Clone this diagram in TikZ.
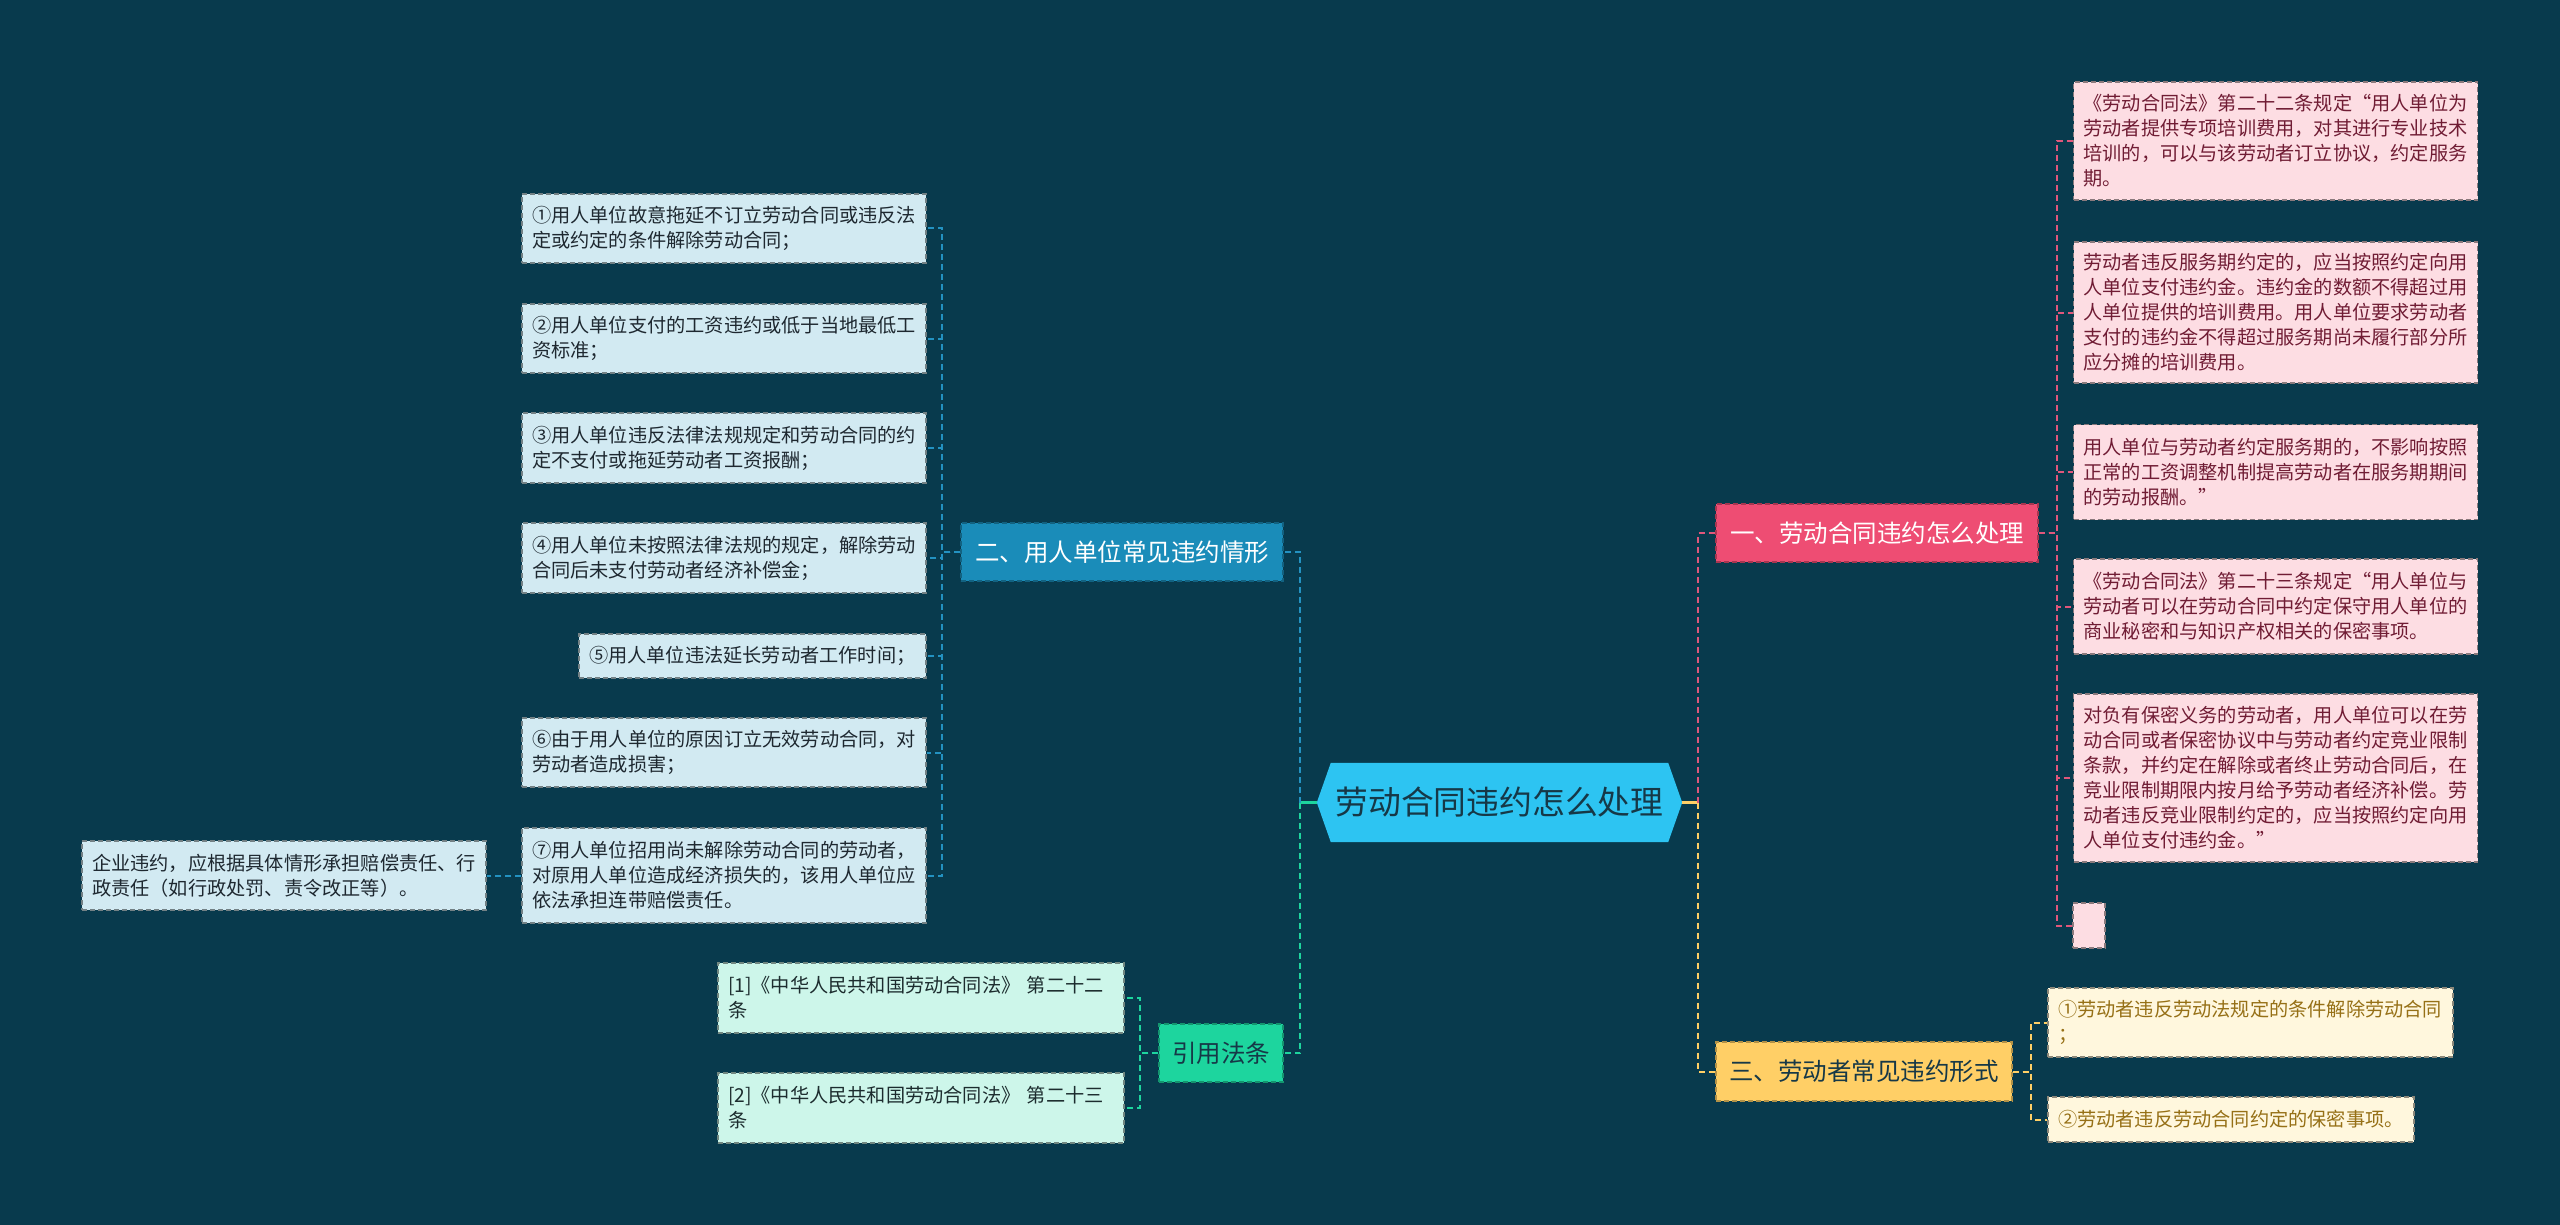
\documentclass[tikz,border=0pt]{standalone}
\usepackage{fontspec}
\setmainfont{Noto Sans CJK SC}
\usetikzlibrary{backgrounds}
\definecolor{bg}{RGB}{8,58,77}
\definecolor{cfill}{RGB}{45,196,242}
\definecolor{ctext}{RGB}{22,56,71}
\definecolor{bfill}{RGB}{26,140,185}
\definecolor{pfillB}{RGB}{238,77,115}
\definecolor{yfillB}{RGB}{255,207,102}
\definecolor{gfillB}{RGB}{29,213,158}
\definecolor{lfill}{RGB}{210,234,242}
\definecolor{ltext}{RGB}{30,40,48}
\definecolor{pfill}{RGB}{253,221,227}
\definecolor{ptext}{RGB}{112,28,52}
\definecolor{yfill}{RGB}{255,247,221}
\definecolor{ytext}{RGB}{150,112,22}
\definecolor{gfill}{RGB}{205,246,234}
\definecolor{gtext}{RGB}{28,44,46}
\definecolor{bcol}{RGB}{35,146,194}
\definecolor{pcol}{RGB}{224,87,123}
\definecolor{ycol}{RGB}{255,207,102}
\definecolor{gcol}{RGB}{29,213,158}
\newcommand\lfnt{\fontsize{19.2}{25}\selectfont}
\newcommand\bfnt{\fontsize{24.5}{28}\selectfont}
\tikzset{
  box/.style={rectangle, inner xsep=10pt, inner ysep=0pt, align=left, line width=1.3pt, dash pattern=on 5pt off 3pt, font=\lfnt, text width=384pt},
  lbox/.style={box, fill=lfill, draw=lfill!55!black, text=ltext},
  pbox/.style={box, fill=pfill, draw=pfill!55!black, text=ptext},
  ybox/.style={box, fill=yfill, draw=yfill!55!black, text=ytext},
  gbox/.style={box, fill=gfill, draw=gfill!55!black, text=gtext},
  br/.style={rectangle, inner sep=0pt, align=center, line width=1.3pt, dash pattern=on 5pt off 3pt, font=\bfnt},
  conn/.style={line width=2pt, dash pattern=on 6pt off 4pt},
  solidc/.style={line width=2.5pt, solid},
}
\begin{document}
\begin{tikzpicture}[x=1pt, y=-1pt]
\useasboundingbox (0,0) rectangle (2560,1225);
\begin{pgfonlayer}{background}
\fill[bg] (0,0) rectangle (2560,1225);
\end{pgfonlayer}

% root
\node[text=ctext, font=\fontsize{32.8}{36}\selectfont, minimum width=365pt, minimum height=79pt, inner sep=0pt] (root) at (1499.5,802.5) {劳动合同违约怎么处理};
\begin{pgfonlayer}{background}
\fill[cfill] (root.west) -- ([xshift=14pt]root.north west) -- ([xshift=-14pt]root.north east) -- (root.east) -- ([xshift=-14pt]root.south east) -- ([xshift=14pt]root.south west) -- cycle;
\end{pgfonlayer}

% branches
\node[br, fill=bfill, draw=bfill!70!black, text=white, minimum width=322pt, minimum height=58pt] (B2) at (1122,552) {二、用人单位常见违约情形};
\node[br, fill=gfillB, draw=gfillB!70!black, text=ctext, minimum width=124pt, minimum height=58pt] (B4) at (1221,1053) {引用法条};
\node[br, fill=pfillB, draw=pfillB!70!black, text=white, minimum width=322pt, minimum height=58pt] (B1) at (1877,533) {一、劳动合同违约怎么处理};
\node[br, fill=yfillB, draw=yfillB!70!black, text=ctext, minimum width=296pt, minimum height=59pt] (B3) at (1864,1071.5) {三、劳动者常见违约形式};

% left leaves
\node[lbox, minimum height=69pt] (L1) at (724,228.5) {①用人单位故意拖延不订立劳动合同或违反法\\定或约定的条件解除劳动合同；};
\node[lbox, minimum height=69pt] (L2) at (724,338.5) {②用人单位支付的工资违约或低于当地最低工\\资标准；};
\node[lbox, minimum height=70pt] (L3) at (724,448) {③用人单位违反法律法规规定和劳动合同的约\\定不支付或拖延劳动者工资报酬；};
\node[lbox, minimum height=70pt] (L4) at (724,558) {④用人单位未按照法律法规的规定，解除劳动\\合同后未支付劳动者经济补偿金；};
\node[lbox, minimum height=44pt, text width=327pt] (L5) at (752.5,656) {⑤用人单位违法延长劳动者工作时间；};
\node[lbox, minimum height=69pt] (L6) at (724,752.5) {⑥由于用人单位的原因订立无效劳动合同，对\\劳动者造成损害；};
\node[lbox, minimum height=95pt] (L7) at (724,875.5) {⑦用人单位招用尚未解除劳动合同的劳动者，\\对原用人单位造成经济损失的，该用人单位应\\依法承担连带赔偿责任。};
\node[lbox, minimum height=69pt] (E) at (284,875.5) {企业违约，应根据具体情形承担赔偿责任、行\\政责任（如行政处罚、责令改正等）。};

\node[gbox, minimum height=70pt, text width=386pt] (C1) at (921,998) {[1]《中华人民共和国劳动合同法》 第二十二\\条};
\node[gbox, minimum height=70pt, text width=386pt] (C2) at (921,1108) {[2]《中华人民共和国劳动合同法》 第二十三\\条};

% right leaves
\node[pbox, minimum height=118pt] (P1) at (2275.5,141) {《劳动合同法》第二十二条规定“用人单位为\\劳动者提供专项培训费用，对其进行专业技术\\培训的，可以与该劳动者订立协议，约定服务\\期。};
\node[pbox, minimum height=141pt] (P2) at (2275.5,312.5) {劳动者违反服务期约定的，应当按照约定向用\\人单位支付违约金。违约金的数额不得超过用\\人单位提供的培训费用。用人单位要求劳动者\\支付的违约金不得超过服务期尚未履行部分所\\应分摊的培训费用。};
\node[pbox, minimum height=95pt] (P3) at (2275.5,472) {用人单位与劳动者约定服务期的，不影响按照\\正常的工资调整机制提高劳动者在服务期期间\\的劳动报酬。”};
\node[pbox, minimum height=95pt] (P4) at (2275.5,606.5) {《劳动合同法》第二十三条规定“用人单位与\\劳动者可以在劳动合同中约定保守用人单位的\\商业秘密和与知识产权相关的保密事项。};
\node[pbox, minimum height=168pt] (P5) at (2275.5,778) {对负有保密义务的劳动者，用人单位可以在劳\\动合同或者保密协议中与劳动者约定竞业限制\\条款，并约定在解除或者终止劳动合同后，在\\竞业限制期限内按月给予劳动者经济补偿。劳\\动者违反竞业限制约定的，应当按照约定向用\\人单位支付违约金。”};
\node[pbox, minimum height=45pt, minimum width=32pt, text width=0pt, inner xsep=0pt] (P6) at (2089,925.5) {};

\node[ybox, minimum height=69pt, text width=385pt] (Y1) at (2250.5,1022.5) {①劳动者违反劳动法规定的条件解除劳动合同\\；};
\node[ybox, minimum height=45pt, text width=346pt] (Y2) at (2231,1119.5) {②劳动者违反劳动合同约定的保密事项。};

% junctions
\coordinate (jl) at (1300,802.5);
\coordinate (jr) at (1698,802.5);

% connectors from root
\draw[solidc, gcol] (root.west) -- (jl);
\draw[solidc, ycol] (root.east) -- (jr);
\draw[conn, bcol] (jl) |- (B2.east);
\draw[conn, gcol] (jl) |- (B4.east);
\draw[conn, pcol] (jr) |- (B1.west);
\draw[conn, ycol] (jr) |- (B3.west);

% left subtree
\foreach \n in {L1,L2,L3,L4,L5,L6,L7}
  \draw[conn, bcol] (B2.west) -- ++(-18,0) |- (\n.east);
\draw[conn, bcol] (L7.west) -- (E.east);
\foreach \n in {C1,C2}
  \draw[conn, gcol] (B4.west) -- ++(-18,0) |- (\n.east);

% right subtree
\foreach \n in {P1,P2,P3,P4,P5,P6}
  \draw[conn, pcol] (B1.east) -- ++(18,0) |- (\n.west);
\foreach \n in {Y1,Y2}
  \draw[conn, ycol] (B3.east) -- ++(18,0) |- (\n.west);
\end{tikzpicture}
\end{document}
